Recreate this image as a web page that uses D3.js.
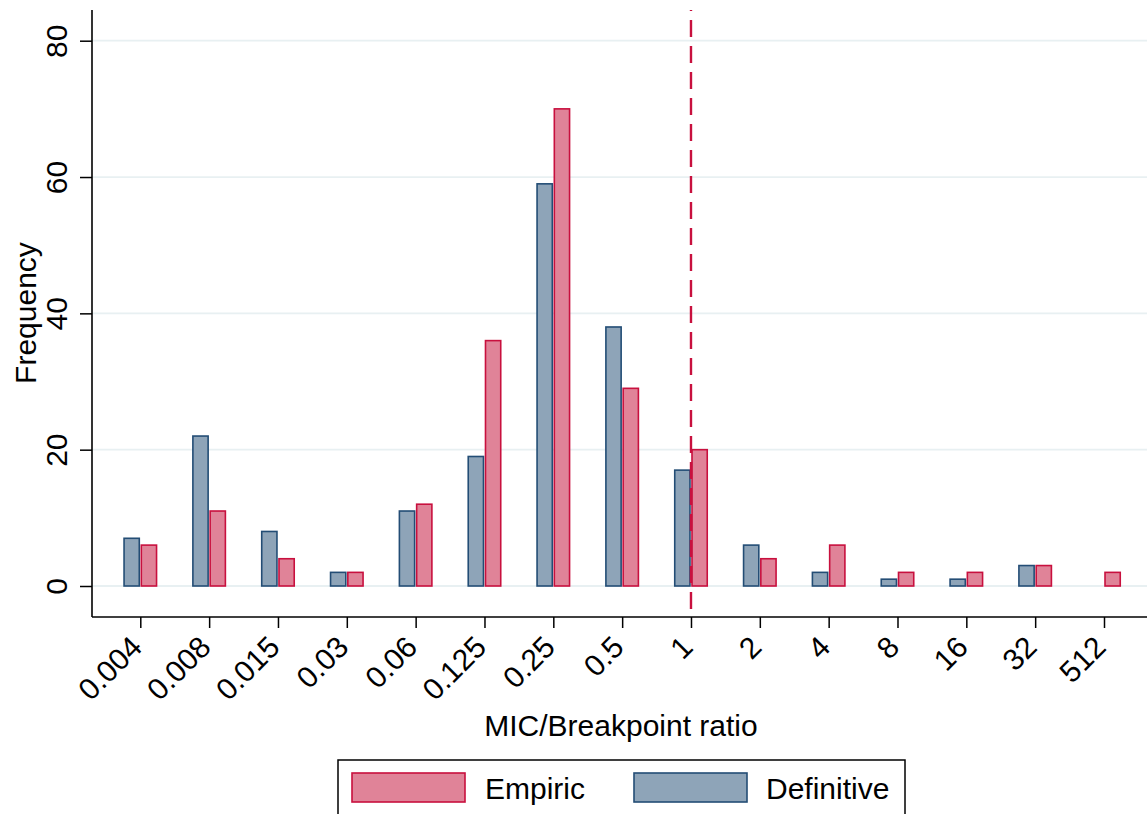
<!DOCTYPE html>
<html>
<head>
<meta charset="utf-8">
<script src="https://cdn.jsdelivr.net/npm/d3@7"></script>
<style>
  html, body { margin: 0; padding: 0; background: #fff; }
  svg { display: block; font-family: "Liberation Sans", Arial, Helvetica, sans-serif; }
</style>
</head>
<body>
<svg id="chart" width="1147" height="814"></svg>
<script>
// MIC/Breakpoint ratio categories
const categories = ["0.004", "0.008", "0.015", "0.03", "0.06", "0.125", "0.25", "0.5", "1", "2", "4", "8", "16", "32", "512"];
// Frequencies per category
const definitive = [7, 22, 8, 2, 11, 19, 59, 38, 17, 6, 2, 1, 1, 3, 0];
const empiric    = [6, 11, 4, 2, 12, 36, 70, 29, 20, 4, 6, 2, 2, 3, 2];
const seriesNames = ["Definitive", "Empiric"];
const yTicks = [0, 20, 40, 60, 80];
const breakpoint = "1";

const colors = {
  Definitive: { fill: "#8ea4b8", stroke: "#234d75" },
  Empiric:    { fill: "#e08398", stroke: "#c8103e" }
};

const FS = 30;
const svg = d3.select("#chart");
const plot = { left: 92, right: 1147, top: 10, bottom: 617 };

const x = d3.scalePoint().domain(categories).range([140.3, 1104]);
const sub = d3.scaleBand().domain(seriesNames).range([-17, 17]).paddingInner(0.03);
const y = d3.scaleLinear().domain([0, 80]).range([586, 40.7]);

// Gridlines
svg.append("g")
  .selectAll("line")
  .data(yTicks)
  .join("line")
  .attr("x1", plot.left).attr("x2", plot.right)
  .attr("y1", d => y(d)).attr("y2", d => y(d))
  .attr("stroke", "#e8f0f2").attr("stroke-width", 1.8);

// Bars
const rows = categories.map((c, i) => ({ cat: c, Definitive: definitive[i], Empiric: empiric[i] }));
const groups = svg.append("g")
  .selectAll("g")
  .data(rows)
  .join("g")
  .attr("transform", d => `translate(${x(d.cat)},0)`);

groups.selectAll("rect")
  .data(d => seriesNames.map(s => ({ s, v: d[s] })).filter(e => e.v > 0))
  .join("rect")
  .attr("x", d => sub(d.s) + 0.75)
  .attr("width", sub.bandwidth() - 1.5)
  .attr("y", d => y(d.v))
  .attr("height", d => y(0) - y(d.v))
  .attr("fill", d => colors[d.s].fill)
  .attr("stroke", d => colors[d.s].stroke)
  .attr("stroke-width", 1.6);

// Y axis
const yAxis = svg.append("g")
  .attr("transform", `translate(${plot.left},0)`)
  .call(d3.axisLeft(y).tickValues(yTicks).tickSize(12).tickSizeOuter(0));
yAxis.select(".domain").remove();
yAxis.selectAll(".tick line").attr("stroke", "#000").attr("stroke-width", 1.5);
yAxis.selectAll(".tick text")
  .attr("font-size", FS)
  .attr("fill", "#000")
  .attr("text-anchor", "middle")
  .attr("x", null).attr("dy", null)
  .attr("transform", "translate(-25,0) rotate(-90)");

// X axis
const xAxis = svg.append("g")
  .attr("transform", `translate(0,${plot.bottom})`)
  .call(d3.axisBottom(x).tickSize(11).tickSizeOuter(0));
xAxis.select(".domain").remove();
xAxis.selectAll(".tick line").attr("stroke", "#000").attr("stroke-width", 1.5);
xAxis.selectAll(".tick text")
  .attr("font-size", FS)
  .attr("fill", "#000")
  .attr("text-anchor", "end")
  .attr("y", null).attr("dy", null)
  .attr("transform", "translate(3,32) rotate(-45)");

// Axis lines
svg.append("line")
  .attr("x1", plot.left).attr("x2", plot.left)
  .attr("y1", plot.top).attr("y2", plot.bottom)
  .attr("stroke", "#000").attr("stroke-width", 1.6);
svg.append("line")
  .attr("x1", plot.left).attr("x2", plot.right)
  .attr("y1", plot.bottom).attr("y2", plot.bottom)
  .attr("stroke", "#000").attr("stroke-width", 1.6);

// Breakpoint reference line
svg.append("line")
  .attr("x1", x(breakpoint)).attr("x2", x(breakpoint))
  .attr("y1", plot.top).attr("y2", plot.bottom)
  .attr("stroke", "#c8103e").attr("stroke-width", 2.4)
  .attr("stroke-dasharray", "17,9")
  .attr("stroke-dashoffset", 16);

// Axis titles
svg.append("text")
  .attr("transform", "translate(36,313) rotate(-90)")
  .attr("text-anchor", "middle")
  .attr("font-size", FS)
  .text("Frequency");
svg.append("text")
  .attr("x", 621).attr("y", 736)
  .attr("text-anchor", "middle")
  .attr("font-size", FS)
  .text("MIC/Breakpoint ratio");

// Legend
const legend = svg.append("g");
legend.append("rect")
  .attr("x", 338).attr("y", 760).attr("width", 567).attr("height", 70)
  .attr("fill", "#fff").attr("stroke", "#000").attr("stroke-width", 1.5);
const legendItems = [
  { s: "Empiric", sx: 352, tx: 485 },
  { s: "Definitive", sx: 634, tx: 766 }
];
legend.selectAll("rect.sw")
  .data(legendItems)
  .join("rect")
  .attr("class", "sw")
  .attr("x", d => d.sx).attr("y", 773).attr("width", 113).attr("height", 29)
  .attr("fill", d => colors[d.s].fill)
  .attr("stroke", d => colors[d.s].stroke)
  .attr("stroke-width", 1.6);
legend.selectAll("text")
  .data(legendItems)
  .join("text")
  .attr("x", d => d.tx).attr("y", 799)
  .attr("font-size", FS)
  .text(d => d.s);
</script>
</body>
</html>
